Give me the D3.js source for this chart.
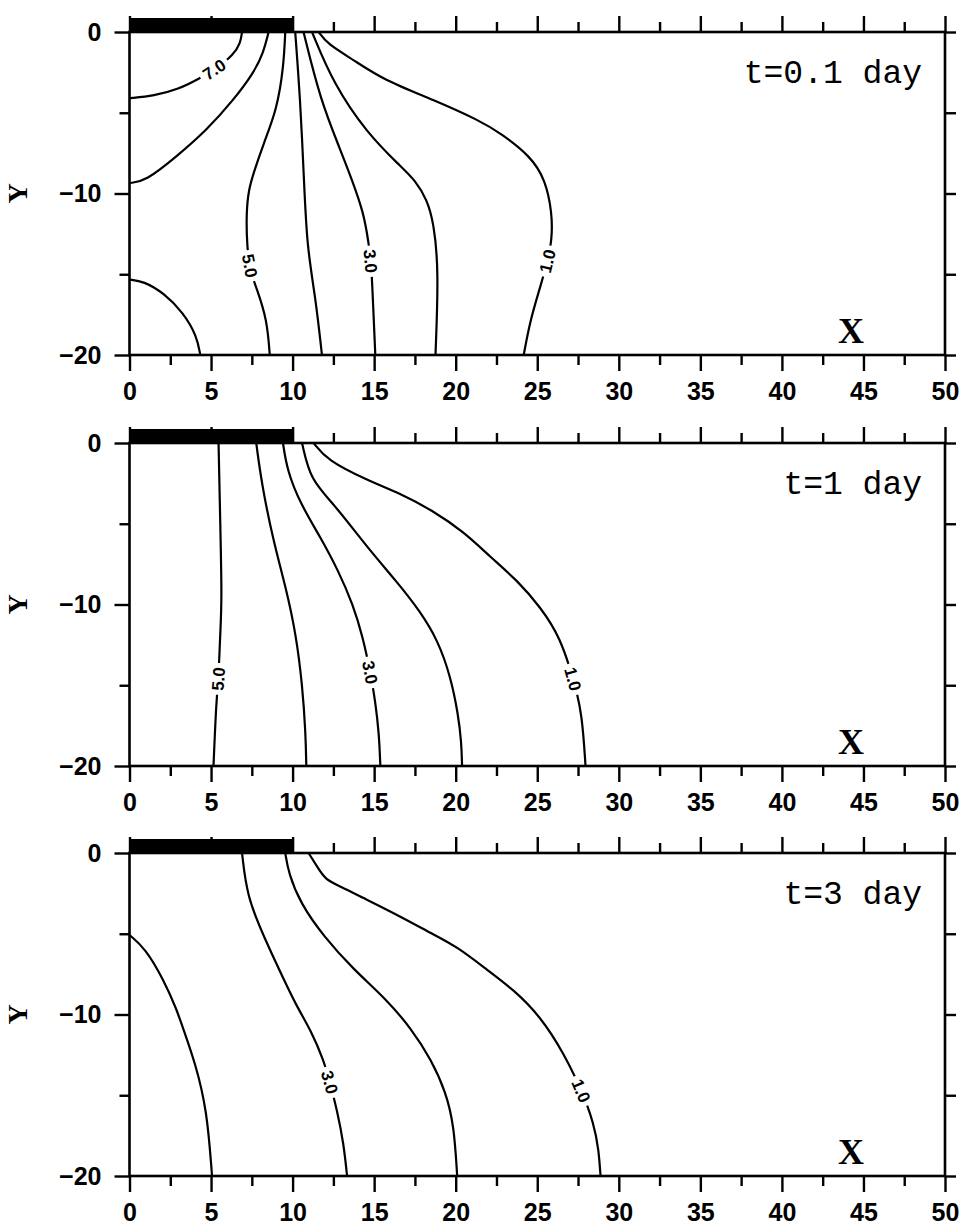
<!DOCTYPE html>
<html>
<head>
<meta charset="utf-8">
<script src="https://cdn.jsdelivr.net/npm/d3@7"></script>
<style>
  body { margin: 0; background: #fff; }
  .tick text { font-family: "Liberation Sans", Arial, sans-serif; font-weight: bold; font-size: 25px; fill: #000; }
  .tick line { stroke: #000; stroke-width: 2.4; }
  .clabel { font-family: "Liberation Sans", Arial, sans-serif; font-weight: bold; font-size: 17px; }
  .title { font-family: "Liberation Mono", monospace; font-size: 33px; }
  .axlab { font-family: "Liberation Serif", serif; font-weight: bold; }
</style>
</head>
<body>
<div id="main"></div>
<script>
var ctx = {
    w: 965,
    h: 1226,
};

// panel captions
var times = ["t=0.1 day", "t=1 day", "t=3 day"];

// heated strip along the surface (x range)
var source = [0, 10];

var xMajor = [0, 5, 10, 15, 20, 25, 30, 35, 40, 45, 50];
var xMinor = [2.5, 7.5, 12.5, 17.5, 22.5, 27.5, 32.5, 37.5, 42.5, 47.5];
var yMajor = [0, -10, -20];
var yMinor = [-5, -15];

// contour lines, [x, y]
var lines01 = [
    [[0,-4.1],[1.5,-3.95],[3,-3.55],[4.34,-2.86],[5.4,-2.2],[6.37,-1.42],[6.8,-0.7],[6.9,0]],
    [[0,-9.35],[0.97,-9.25],[2.9,-7.7],[4.75,-6.06],[6.38,-4.2],[7.6,-2.55],[8.2,-1.32],[8.53,0]],
    [[9.55,0],[9.45,-2.14],[9.04,-4.8],[8.22,-6.9],[7.6,-8.75],[7.3,-9.8],[7.16,-11.2],[7.2,-13.27],[7.4,-14.8],[7.82,-15.95],[8.43,-17.8],[8.6,-20]],
    [[10.16,0],[10.47,-4.2],[10.7,-9.2],[10.88,-13.3],[11.4,-16.4],[11.8,-20]],
    [[10.67,0],[11.7,-4.2],[12.93,-7.3],[13.64,-9.15],[14.36,-11.2],[14.66,-13.06],[14.8,-14.2],[14.87,-15.3],[15.07,-20]],
    [[11.19,0],[12.5,-3.2],[14.56,-6.26],[16.6,-8.3],[17.5,-9.15],[18.25,-10.4],[18.65,-11.8],[18.96,-14.7],[18.76,-20]],
    [[11.6,0],[12.11,-0.72],[13.74,-1.73],[15.58,-2.97],[18.65,-4.2],[21.5,-5.5],[22.74,-6.26],[24.6,-7.7],[25.5,-9.15],[25.91,-11.2],[25.91,-12.86],[25.6,-14.3],[25.2,-15.74],[24.58,-17.8],[24.17,-20]],
    [[0,-15.33],[0.86,-15.43],[2.09,-16.15],[3.31,-17.39],[4.13,-18.83],[4.34,-20]],
];
var labels01 = [
    { line: 0, at: [5.15,-2.25], text: "7.0", flip: false },
    { line: 2, at: [7.3,-14.5], text: "5.0", flip: false },
    { line: 4, at: [14.77,-14.2], text: "3.0", flip: false },
    { line: 6, at: [25.65,-14.2], text: "1.0", flip: true },
];

var lines1 = [
    [[5.46,0],[5.56,-4.78],[5.67,-9.75],[5.56,-11.8],[5.46,-14.6],[5.32,-15.96],[5.15,-20]],
    [[7.77,0],[8.1,-2.5],[8.8,-6],[9.6,-9],[10.2,-11.8],[10.6,-15],[10.8,-18],[10.84,-20]],
    [[9.41,0],[9.66,-1.68],[10.47,-3.75],[11.7,-5.82],[12.8,-7.9],[13.7,-10],[14.3,-12],[14.77,-14.2],[15.07,-16],[15.3,-18],[15.38,-20]],
    [[10.58,0],[11.09,-2.3],[12.52,-3.75],[14.56,-6.44],[16.4,-8.6],[17.8,-10.4],[18.9,-12.2],[19.7,-14.5],[20.15,-16.8],[20.35,-18.5],[20.39,-20]],
    [[11.29,0],[12.11,-1.06],[14.56,-2.3],[16.6,-3.12],[18.55,-4.16],[20.5,-5.5],[22.13,-7.06],[23.77,-8.5],[25.2,-10.17],[26.42,-12.03],[27.3,-14.9],[27.75,-16.8],[27.96,-20]],
];
var labels1 = [
    { line: 0, at: [5.45,-14.6], text: "5.0", flip: true },
    { line: 2, at: [14.77,-14.2], text: "3.0", flip: false },
    { line: 4, at: [27.2,-14.6], text: "1.0", flip: false },
];

var lines3 = [
    [[0,-5.08],[0.97,-5.9],[2.09,-7.85],[2.9,-9.7],[3.31,-10.94],[4.03,-13.0],[4.75,-15.9],[5.06,-20]],
    [[6.9,0],[7.2,-2.68],[8.22,-5.16],[9.66,-8.26],[10.37,-9.7],[11.09,-10.94],[11.9,-12.8],[12.3,-14.26],[12.72,-15.9],[13.13,-17.98],[13.34,-20]],
    [[9.55,0],[9.75,-1.24],[10.47,-3.1],[11.9,-5.16],[13.74,-7.22],[15.7,-9.0],[17.3,-10.9],[18.5,-12.8],[19.4,-14.8],[19.9,-16.9],[20.09,-20]],
    [[10.98,0],[11.5,-0.83],[12.0,-1.65],[12.93,-2.07],[14.15,-2.69],[16.6,-3.92],[18.55,-5.0],[20.09,-5.8],[21.93,-7.24],[23.56,-8.47],[25.2,-10.13],[26.63,-12.4],[27.75,-14.76],[28.47,-16.74],[28.77,-18.39],[28.88,-20]],
];
var labels3 = [
    { line: 1, at: [12.3,-14.2], text: "3.0", flip: false },
    { line: 3, at: [27.75,-14.7], text: "1.0", flip: false },
];

var panels = [
    { top: 32, lines: lines01, labels: labels01, title: times[0] },
    { top: 443, lines: lines1, labels: labels1, title: times[1] },
    { top: 853, lines: lines3, labels: labels3, title: times[2] },
];

var fmt = (d) => (d < 0 ? "\u2212" + Math.abs(d) : "" + d);

// put a label into a gap cut in the contour line
var placeLabel = function (g, path, lab, x, y) {
    var node = path.node();
    var L = node.getTotalLength();
    var px = x(lab.at[0]), py = y(lab.at[1]);
    var best = 0, bd = Infinity;
    for (var s = 0; s <= L; s += 0.5) {
        var p = node.getPointAtLength(s);
        var dd = (p.x - px) * (p.x - px) + (p.y - py) * (p.y - py);
        if (dd < bd) { bd = dd; best = s; }
    }
    var gap = 32;
    path.attr("stroke-dasharray", (best - gap / 2) + " " + gap + " " + L);
    var a = node.getPointAtLength(Math.max(0, best - 5));
    var b = node.getPointAtLength(Math.min(L, best + 5));
    var ang = Math.atan2(b.y - a.y, b.x - a.x) * 180 / Math.PI;
    if (lab.flip) ang += 180;
    var c = node.getPointAtLength(best);
    g.append("text")
        .attr("class", "clabel")
        .attr("transform", `translate(${c.x},${c.y}) rotate(${ang})`)
        .attr("text-anchor", "middle")
        .attr("dy", "0.36em")
        .text(lab.text);
};

var drawPanel = function (svg, p) {
    var h = 323;
    var x = d3.scaleLinear().domain([0, 50]).range([129.5, 945]);
    var y = d3.scaleLinear().domain([-20, 0]).range([p.top + h, p.top]);
    var g = svg.append("g");

    // minor ticks
    g.append("g").attr("transform", `translate(0,${y(-20)})`)
        .call(d3.axisBottom(x).tickValues(xMinor).tickSize(10).tickFormat(""));
    g.append("g").attr("transform", `translate(0,${y(0)})`)
        .call(d3.axisTop(x).tickValues(xMinor).tickSize(10).tickFormat(""));
    g.append("g").attr("transform", `translate(${x(0)},0)`)
        .call(d3.axisLeft(y).tickValues(yMinor).tickSize(10).tickFormat(""));

    // major ticks + labels
    g.append("g").attr("transform", `translate(0,${y(-20)})`)
        .call(d3.axisBottom(x).tickValues(xMajor).tickSize(16).tickPadding(11).tickFormat(fmt));
    g.append("g").attr("transform", `translate(0,${y(0)})`)
        .call(d3.axisTop(x).tickValues(xMajor).tickSize(16).tickFormat(""));
    g.append("g").attr("transform", `translate(${x(0)},0)`)
        .call(d3.axisLeft(y).tickValues(yMajor).tickSize(15).tickPadding(13).tickFormat(fmt));
    g.append("g").attr("transform", `translate(${x(50)},0)`)
        .call(d3.axisRight(y).tickValues(yMajor.concat(yMinor)).tickSize(11).tickFormat(""));

    g.selectAll(".domain").remove();

    // frame
    g.append("rect")
        .attr("x", x(0)).attr("y", y(0))
        .attr("width", x(50) - x(0)).attr("height", y(-20) - y(0))
        .attr("fill", "none").attr("stroke", "#000").attr("stroke-width", 2.6);

    // heated strip
    g.append("rect")
        .attr("x", x(source[0])).attr("y", y(0) - 14)
        .attr("width", x(source[1]) - x(source[0])).attr("height", 14)
        .attr("fill", "#000");

    var line = d3.line()
        .x((d) => x(d[0]))
        .y((d) => y(d[1]))
        .curve(d3.curveBasis);

    var paths = p.lines.map((pts) =>
        g.append("path")
            .attr("d", line(pts))
            .attr("fill", "none")
            .attr("stroke", "#000")
            .attr("stroke-width", 2.2)
    );

    p.labels.forEach((lab) => placeLabel(g, paths[lab.line], lab, x, y));

    g.append("text").attr("class", "title")
        .attr("x", 922).attr("y", y(0) + 51)
        .attr("text-anchor", "end")
        .text(p.title);

    g.append("text").attr("class", "axlab")
        .attr("x", 851).attr("y", y(-20) - 12)
        .attr("text-anchor", "middle")
        .style("font-size", "36px")
        .text("X");

    g.append("text").attr("class", "axlab")
        .attr("transform", `translate(27,${y(-10)}) rotate(-90)`)
        .attr("text-anchor", "middle")
        .style("font-size", "28px")
        .text("Y");
};

var createViz = function () {
    var svg = d3.select("#main").append("svg")
        .attr("width", ctx.w)
        .attr("height", ctx.h);
    svg.append("rect").attr("width", ctx.w).attr("height", ctx.h).attr("fill", "#fff");
    panels.forEach((p) => drawPanel(svg, p));
};

createViz();
</script>
</body>
</html>
